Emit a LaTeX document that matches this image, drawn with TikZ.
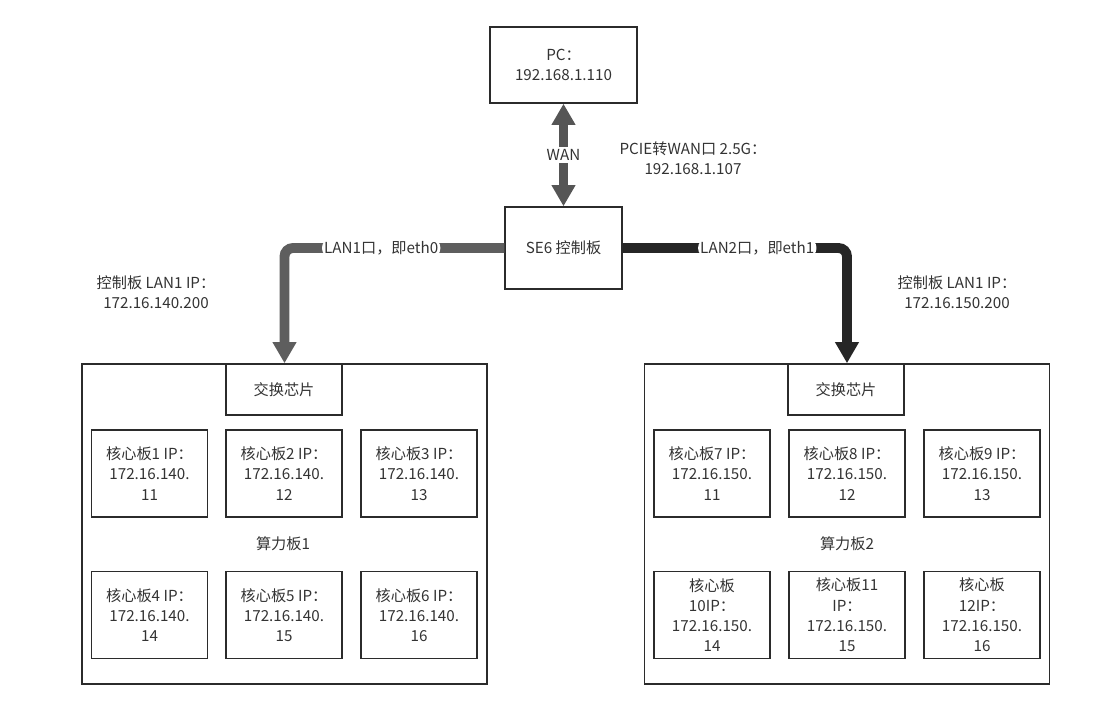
\documentclass[tikz,border=0pt]{standalone}
\usepackage{fontspec}
\setmainfont{Noto Sans CJK SC}
\usetikzlibrary{arrows.meta}
\definecolor{txt}{HTML}{333333}
\definecolor{boxline}{HTML}{2B2B2B}
\definecolor{wanc}{HTML}{555555}
\definecolor{lanonec}{HTML}{5E5E5E}
\definecolor{lantwoc}{HTML}{262626}
\begin{document}
\begin{tikzpicture}[x=0.025cm,y=-0.025cm,
  font=\fontsize{10.8pt}{14.4pt}\selectfont, text=txt,
  box/.style={draw=boxline, line width=1pt, align=center, inner sep=2pt},
  core/.style={box, minimum width=2.9cm, minimum height=2.175cm},
  chip/.style={box, minimum width=2.9cm, minimum height=1.275cm},
  board/.style={draw=boxline, line width=1pt, minimum width=10.125cm, minimum height=8cm},
  fat/.style={line width=7pt, -{Triangle[width=16pt,length=15pt]}},
  lbl/.style={align=center, inner sep=2pt},
  onlbl/.style={fill=white, text=txt, inner sep=1.5pt}
]
\useasboundingbox (0,0) rectangle (1120,710);
\fill[white] (0,0) rectangle (1120,710);

% top nodes
\node[box, minimum width=3.675cm, minimum height=1.9cm] (pc) at (563.5,65) {PC：\\192.168.1.110};
\node[box, minimum width=2.925cm, minimum height=2.05cm] (se6) at (563.5,248) {SE6 控制板};

% boards
\node[board] (b1) at (284.5,524) {};
\node[board] (b2) at (847,524) {};

\node[chip] (sw1) at (284,389.5) {交换芯片};
\node[chip] (sw2) at (846,389.5) {交换芯片};

\node[core] (c1) at (149.5,473.5) {核心板1 IP：\\172.16.140.\\11};
\node[core] (c2) at (284,473.5) {核心板2 IP：\\172.16.140.\\12};
\node[core] (c3) at (419,473.5) {核心板3 IP：\\172.16.140.\\13};
\node[core] (c4) at (149.5,615) {核心板4 IP：\\172.16.140.\\14};
\node[core] (c5) at (284,615) {核心板5 IP：\\172.16.140.\\15};
\node[core] (c6) at (419,615) {核心板6 IP：\\172.16.140.\\16};
\node (t1) at (283,544) {算力板1};

\node[core] (c7) at (712,473.5) {核心板7 IP：\\172.16.150.\\11};
\node[core] (c8) at (847,473.5) {核心板8 IP：\\172.16.150.\\12};
\node[core] (c9) at (982,473.5) {核心板9 IP：\\172.16.150.\\13};
\node[core] (c10) at (712,615) {核心板\\10IP：\\172.16.150.\\14};
\node[core] (c11) at (847,615) {核心板11\\IP：\\172.16.150.\\15};
\node[core] (c12) at (982,615) {核心板\\12IP：\\172.16.150.\\16};
\node (t2) at (847,544) {算力板2};

% labels
\node[lbl] (pcie) at (693,158) {PCIE转WAN口 2.5G：\\192.168.1.107};
\node[lbl] (ipl) at (156,292) {控制板 LAN1 IP：\\172.16.140.200};
\node[lbl] (ipr) at (957,292) {控制板 LAN1 IP：\\172.16.150.200};

% connectors
\draw[line width=7pt, color=wanc, {Triangle[width=16pt,length=15pt]}-{Triangle[width=16pt,length=15pt]}]
  (pc.south) -- node[onlbl] {WAN} (se6.north);
\draw[fat, color=lanonec, rounded corners=6pt]
  (se6.west) -| node[pos=0.28, onlbl] {LAN1口，即eth0} (b1.north);
\draw[fat, color=lantwoc, rounded corners=6pt]
  (se6.east) -| node[pos=0.3, onlbl] {LAN2口，即eth1} (b2.north);
\end{tikzpicture}
\end{document}
